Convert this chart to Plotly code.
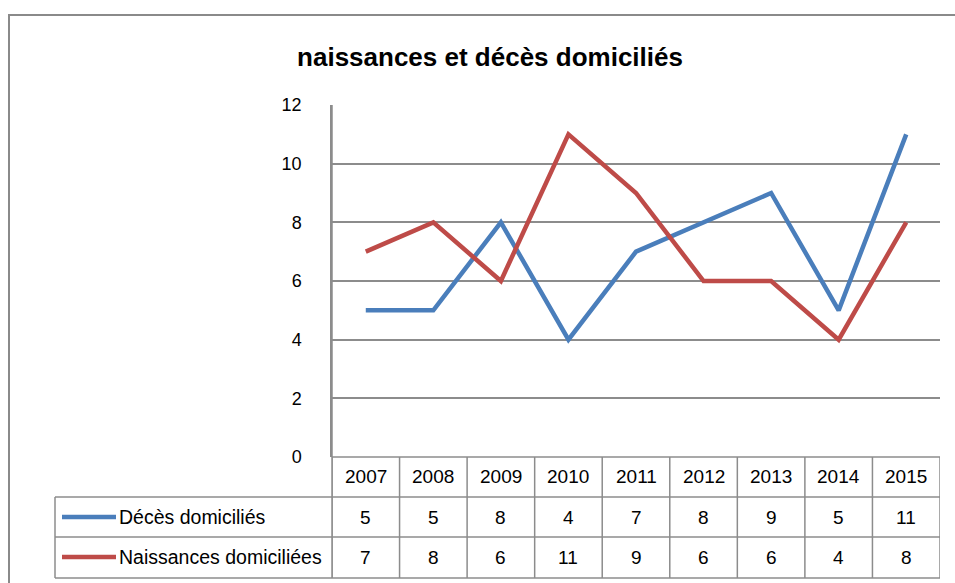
import plotly.graph_objects as go

years = ["2007", "2008", "2009", "2010", "2011", "2012", "2013", "2014", "2015"]
deces = [5, 5, 8, 4, 7, 8, 9, 5, 11]
naissances = [7, 8, 6, 11, 9, 6, 6, 4, 8]
series_names = ["Décès domiciliés", "Naissances domiciliées"]
series_colors = ["#4A7EBB", "#BE4B48"]
y_ticks = [0, 2, 4, 6, 8, 10, 12]
title = "naissances et décès domiciliés"

W, H = 955, 583
FONT = "Liberation Sans, Arial, sans-serif"
GRID = "#8c8c8c"

def py(pix):
    return (H - pix) / H

def px(pix):
    return pix / W

fig = go.Figure()
for name, vals, col in zip(series_names, [deces, naissances], series_colors):
    fig.add_trace(go.Scatter(x=years, y=vals, mode="lines", name=name,
                             line=dict(color=col, width=4.5), showlegend=False,
                             hoverinfo="skip"))

x_left, x_right = 332, 940
y_zero, y_top = 457, 105
row_lines = [497, 537, 578]
leg_left = 55

shapes = []
shapes.append(dict(type="rect", xref="paper", yref="paper", x0=px(9), x1=1.05,
                   y0=-0.05, y1=py(15), line=dict(color="#8a8a8a", width=2)))
shapes.append(dict(type="line", xref="paper", yref="paper", x0=px(x_left), x1=px(x_right),
                   y0=py(y_zero), y1=py(y_zero), line=dict(color=GRID, width=1.5)))
for r in row_lines:
    shapes.append(dict(type="line", xref="paper", yref="paper", x0=px(leg_left), x1=px(x_right),
                       y0=py(r), y1=py(r), line=dict(color=GRID, width=1.5)))
for i in range(len(years) + 1):
    shapes.append(dict(type="line", xref="x", yref="paper", x0=i - 0.5, x1=i - 0.5,
                       y0=py(row_lines[-1]), y1=py(y_zero), line=dict(color=GRID, width=1.5)))
shapes.append(dict(type="line", xref="paper", yref="paper", x0=px(leg_left), x1=px(leg_left),
                   y0=py(row_lines[-1]), y1=py(row_lines[0]), line=dict(color=GRID, width=1.5)))
shapes.append(dict(type="line", xref="paper", yref="paper", x0=px(x_left), x1=px(x_left),
                   y0=py(row_lines[-1]), y1=py(y_top), line=dict(color=GRID, width=1.5)))

annotations = []
row_centers = [477, 517, 557]
for i, yr in enumerate(years):
    annotations.append(dict(x=i, xref="x", y=py(row_centers[0]), yref="paper", text=yr,
                            xanchor="center", yanchor="middle",
                            showarrow=False, font=dict(family=FONT, size=19, color="#000")))
for r, vals in enumerate([deces, naissances]):
    for i, v in enumerate(vals):
        annotations.append(dict(x=i, xref="x", y=py(row_centers[r + 1]), yref="paper", text=str(v),
                                xanchor="center", yanchor="middle",
                                showarrow=False, font=dict(family=FONT, size=19, color="#000")))
for r, (name, col) in enumerate(zip(series_names, series_colors)):
    yc = py(row_centers[r + 1])
    shapes.append(dict(type="line", xref="paper", yref="paper", x0=px(62), x1=px(116),
                       y0=yc, y1=yc, line=dict(color=col, width=4.5)))
    annotations.append(dict(x=px(117), xref="paper", y=yc, yref="paper", text=name,
                            xanchor="left", yanchor="middle", showarrow=False,
                            font=dict(family=FONT, size=19.5, color="#000")))

fig.update_layout(
    width=W, height=H, autosize=False,
    margin=dict(l=0, r=0, t=0, b=0, pad=0, autoexpand=False),
    paper_bgcolor="white", plot_bgcolor="white",
    title=dict(text="<b>" + title + "</b>", x=490 / W, xanchor="center", y=py(57), yanchor="middle",
               font=dict(family=FONT, size=26, color="#000")),
    xaxis=dict(type="category", domain=[px(x_left), px(x_right)], range=[-0.5, len(years) - 0.5],
               showticklabels=False, showgrid=False, zeroline=False, showline=False, ticks="",
               automargin=False),
    yaxis=dict(domain=[py(y_zero), py(y_top)], range=[0, 12], tickvals=y_ticks,
               showgrid=True, gridcolor=GRID, gridwidth=1.5, zeroline=False,
               showline=True, linecolor=GRID, linewidth=1.5, automargin=False,
               ticks="", ticklabelstandoff=25,
               tickfont=dict(family=FONT, size=18, color="#000")),
    shapes=shapes, annotations=annotations,
)

fig.write_html("out.html", config={"displayModeBar": False},
               post_script="document.body.style.margin='0';document.body.style.overflow='hidden';")
